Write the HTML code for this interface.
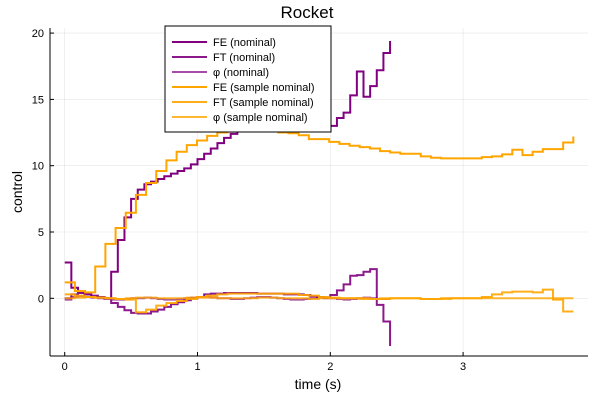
<!DOCTYPE html>
<html><head><meta charset="utf-8"><style>
body{margin:0;background:#fff}
svg text{font-family:"Liberation Sans","DejaVu Sans",sans-serif}
</style></head><body>
<svg id="chart" width="600" height="400" xmlns="http://www.w3.org/2000/svg">
<rect width="600" height="400" fill="#fff"/>
<text x="307" y="18" font-size="17" text-anchor="middle">Rocket</text>
<g id="grid"></g>
<g id="series"></g>
<g id="axes"></g>
<text x="318" y="389" font-size="14" text-anchor="middle">time (s)</text>
<text x="22" y="192" font-size="14" text-anchor="middle" transform="rotate(-90 22 192)">control</text>
<g id="legend"></g>
</svg>
<script>
const xTicks=[0,1,2,3];
const yTicks=[-0,5,10,15,20];
const yTickLabels=["0","5","10","15","20"];
const dtNom=0.05;
const dtSamp=0.0766;
const feNominal=[2.7,0.8,0.5,0.3,0.1,0.05,0.0,2.0,4.4,6.1,7.5,8.2,8.6,8.8,9.0,9.2,9.4,9.6,9.8,10.1,10.5,10.9,11.3,11.7,12.1,12.4,12.7,12.9,13.1,13.2,13.3,13.3,13.2,13.1,13.0,13.0,13.0,13.0,13.0,13.0,13.0,13.6,14.0,15.3,17.1,15.2,16.0,17.2,18.5,19.4];
const ftNominal=[0.0,0.3,0.4,0.3,0.2,0.1,0.0,-0.35,-0.65,-0.9,-1.1,-1.15,-1.15,-1.0,-0.85,-0.65,-0.45,-0.3,-0.15,0.0,0.1,0.3,0.35,0.35,0.4,0.4,0.4,0.4,0.4,0.35,0.35,0.35,0.35,0.3,0.3,0.3,0.25,0.15,0.1,0.05,0.25,0.6,1.05,1.7,1.75,2.0,2.2,-0.5,-1.75,-3.6];
const phiNominal=[-0.1,0.1,0.15,0.1,0.05,0.0,-0.05,-0.1,-0.1,-0.05,0.0,0.0,0.05,0.0,-0.05,-0.1,-0.1,-0.05,0.0,0.05,0.1,0.1,0.05,0.0,0.0,-0.05,-0.05,0.0,0.05,0.1,0.1,0.05,0.0,-0.05,-0.1,-0.1,-0.05,0.0,0.05,0.0,0.0,-0.05,-0.1,-0.05,0.0,0.05,0.0,-0.05,-0.05,-0.05];
const feSample=[1.2,0.55,0.45,2.4,4.1,5.3,6.45,7.8,8.7,9.6,10.4,11.05,11.55,11.9,12.25,12.5,12.7,12.8,12.8,12.75,12.65,12.5,12.45,12.3,12.0,12.0,11.8,11.65,11.5,11.4,11.3,11.1,11.0,10.9,10.9,10.7,10.6,10.55,10.55,10.55,10.55,10.65,10.7,10.85,11.2,10.8,11.05,11.25,11.25,11.75,12.2];
const ftSample=[0.3,0.2,0.1,0.05,0.0,-0.05,-0.1,-1.05,-0.85,-0.55,-0.35,-0.2,-0.05,0.1,0.2,0.3,0.35,0.35,0.35,0.35,0.35,0.35,0.35,0.25,0.2,0.1,0.05,0.0,0.0,0.0,-0.05,-0.05,0.0,0.0,0.0,-0.05,-0.05,0.0,0.0,0.0,0.0,0.1,0.3,0.45,0.5,0.5,0.45,0.65,-0.1,-1.0,-1.0];
const phiSample=[0.0,0.05,0.1,0.05,0.0,-0.05,0.0,0.05,0.05,0.0,0.0,0.0,0.05,0.05,0.05,0.0,0.0,0.0,0.0,0.05,0.05,0.0,0.0,0.0,-0.05,0.0,0.0,0.0,0.0,-0.05,-0.05,0.0,0.0,0.0,0.0,-0.05,-0.05,-0.05,0.0,0.0,0.0,0.0,0.0,0.0,0.0,0.0,0.0,0.0,0.0,0.0,0.0];
const NS="http://www.w3.org/2000/svg";
const X=t=>64.7+t*132.8;
const Y=v=>298.3-v*13.26;
const L=50,R=588,T=28,B=356;
function mk(tag,attrs,parent){const e=document.createElementNS(NS,tag);for(const k in attrs)e.setAttribute(k,attrs[k]);parent.appendChild(e);return e;}
const grid=document.getElementById('grid'),axes=document.getElementById('axes'),ser=document.getElementById('series'),leg=document.getElementById('legend');
xTicks.forEach(t=>{
 const g=mk('line',{x1:X(t),x2:X(t),y1:T,y2:B,stroke:'#000','stroke-opacity':0.1,'stroke-width':0.6},grid);
 
 const k=mk('line',{x1:X(t),x2:X(t),y1:B,y2:B-4,stroke:'#000','stroke-width':1},axes);
 
 const tx=mk('text',{x:X(t),y:B+14,'font-size':11,'text-anchor':'middle'},axes);tx.textContent=String(t);
 
});
yTicks.forEach((v,i)=>{
 const g=mk('line',{x1:L,x2:R,y1:Y(v),y2:Y(v),stroke:'#000','stroke-opacity':0.1,'stroke-width':0.6},grid);
 
 const k=mk('line',{x1:L,x2:L+4,y1:Y(v),y2:Y(v),stroke:'#000','stroke-width':1},axes);
 
 const tx=mk('text',{x:L-6,y:Y(v)+4,'font-size':11,'text-anchor':'end'},axes);tx.textContent=yTickLabels[i];
 
});
const ax1=mk('line',{x1:L,x2:L,y1:T,y2:B,stroke:'#000','stroke-width':1},axes);

const ax2=mk('line',{x1:L,x2:R,y1:B,y2:B,stroke:'#000','stroke-width':1},axes);

function stepPath(vals,dt){let d='M'+X(0)+','+Y(vals[0]);for(let i=1;i<vals.length;i++){d+='H'+X(i*dt)+'V'+Y(vals[i]);}return d;}
const series=[
 {name:'FE (nominal)',v:feNominal,dt:dtNom,c:'#800080',op:1,id:'fe-nominal'},
 {name:'FT (nominal)',v:ftNominal,dt:dtNom,c:'#800080',op:0.9,id:'ft-nominal'},
 {name:'φ (nominal)',v:phiNominal,dt:dtNom,c:'#800080',op:0.7,id:'phi-nominal'},
 {name:'FE (sample nominal)',v:feSample,dt:dtSamp,c:'#FFA500',op:1,id:'fe-sample'},
 {name:'FT (sample nominal)',v:ftSample,dt:dtSamp,c:'#FFA500',op:0.9,id:'ft-sample'},
 {name:'φ (sample nominal)',v:phiSample,dt:dtSamp,c:'#FFA500',op:0.8,id:'phi-sample'}
];
series.forEach(s=>{
 const p=mk('path',{d:stepPath(s.v,s.dt),fill:'none',stroke:s.c,'stroke-opacity':s.op,'stroke-width':2},ser);
 
});
const box=mk('rect',{x:165,y:26,width:166,height:106,fill:'#fff',stroke:'#000','stroke-width':1},leg);

series.forEach((s,i)=>{
 const y=42+i*15;
 const g=mk('g',{},leg);
 
 mk('line',{x1:172,x2:207,y1:y,y2:y,stroke:s.c,'stroke-opacity':s.op,'stroke-width':2},g);
 const t=mk('text',{x:213,y:y+4,'font-size':11},g);t.textContent=s.name;
});
</script>
</body></html>
